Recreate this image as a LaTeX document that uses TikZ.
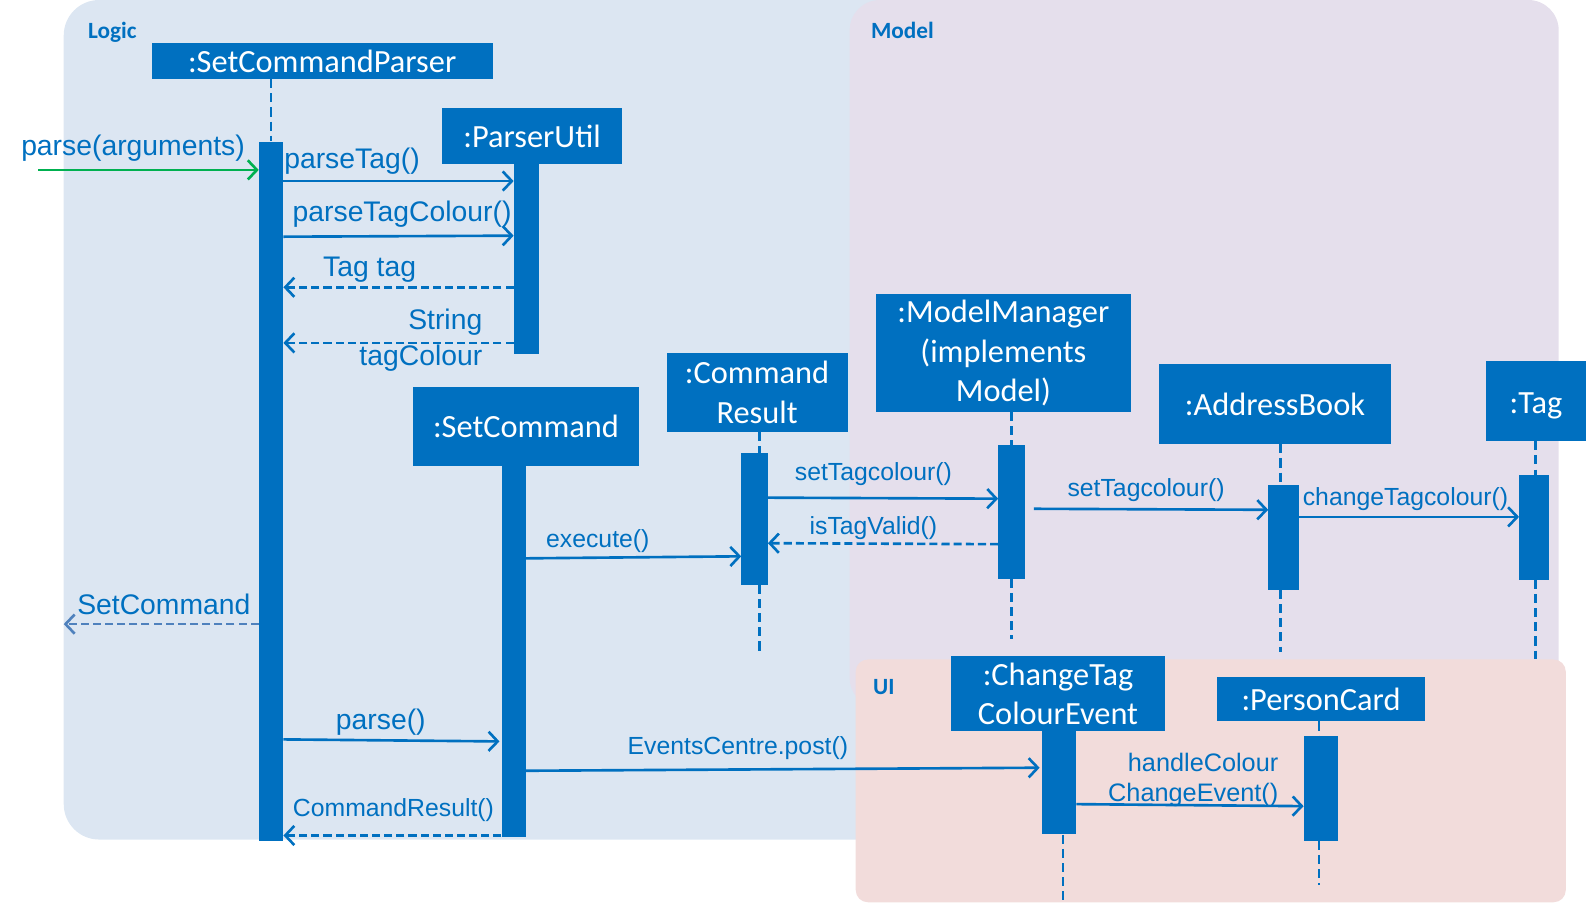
\documentclass[tikz,border=0pt]{standalone}
\usepackage{fontspec}
\setmainfont{Liberation Sans}
\newfontfamily\hdrfont{Carlito}
\usetikzlibrary{arrows.meta}
\definecolor{ublue}{HTML}{0070C0}
\definecolor{logicbg}{HTML}{DCE6F2}
\definecolor{modelbg}{HTML}{E5DFEC}
\definecolor{uibg}{HTML}{F2DCDB}
\definecolor{ugreen}{HTML}{00B050}
\definecolor{retblue}{HTML}{4F81BD}
\begin{document}
\begin{tikzpicture}[x=1pt,y=-1pt,
 hdr/.style={fill=ublue, text=white, inner sep=0pt, font=\hdrfont\fontsize{32}{39}\selectfont, align=center},
 bar/.style={fill=ublue, inner sep=0pt, draw=none},
 life/.style={draw=ublue, line width=2.5pt, dash pattern=on 9pt off 5pt},
 msg/.style={draw=ublue, line width=2.6pt, -{Straight Barb[length=9pt,width=19pt]}},
 ret/.style={msg, dash pattern=on 8pt off 4pt},
 lbig/.style={text=ublue, inner sep=0pt, yshift=-3pt, font=\fontsize{28}{35}\selectfont},
 lsmall/.style={text=ublue, inner sep=0pt, yshift=-3pt, font=\fontsize{24.5}{30}\selectfont},
 region/.style={font=\hdrfont\bfseries\fontsize{23}{28}\selectfont, text=ublue, anchor=west, inner sep=0pt}
]
\useasboundingbox (0,0) rectangle (1568,900);
% regions
\fill[logicbg, rounded corners=35pt] (63,0) rectangle (900,830);
\fill[modelbg, rounded corners=30pt] (840,0) rectangle (1541,700);
\fill[uibg, rounded corners=12pt] (846,652) rectangle (1548,892);
\node[region] (rlogic) at (87,32) {Logic};
\node[region] (rmodel) at (861,30) {Model};
\node[region] (rui) at (863,679) {UI};

% headers
\node[hdr, minimum width=337pt, minimum height=35pt] (h1) at (318.5,60.5) {:SetCommandParser};
\node[hdr, minimum width=178pt, minimum height=55pt] (h2) at (526,134.5) {:ParserUtil};
\node[hdr, minimum width=224pt, minimum height=78pt] (h3) at (520,422) {:SetCommand};
\node[hdr, minimum width=179pt, minimum height=78pt] (h4) at (748.5,388) {:Command\\Result};
\node[hdr, minimum width=252pt, minimum height=116pt] (h5) at (992,349) {:ModelManager\\(implements\\Model)};
\node[hdr, minimum width=229pt, minimum height=79pt] (h6) at (1260.5,399.5) {:AddressBook};
\node[hdr, minimum width=99pt, minimum height=79pt] (h7) at (1518.5,396.5) {\raisebox{-5pt}[\height][\depth]{:Tag}};
\node[hdr, minimum width=212pt, minimum height=74pt] (h8) at (1046,686) {:ChangeTag\\ColourEvent};
\node[hdr, minimum width=206pt, minimum height=44pt] (h9) at (1306,691) {:PersonCard};

% activation bars
\node[bar, minimum width=24pt, minimum height=691pt] (b1) at (268,485.5) {};
\node[bar, minimum width=25pt, minimum height=188pt] (b2) at (520.5,256) {};
\node[bar, minimum width=24pt, minimum height=366pt] (b3) at (508,644) {};
\node[bar, minimum width=26pt, minimum height=130pt] (b4) at (746,513) {};
\node[bar, minimum width=26pt, minimum height=132pt] (b5) at (1000,506) {};
\node[bar, minimum width=30pt, minimum height=104pt] (b6) at (1269,531) {};
\node[bar, minimum width=29pt, minimum height=103pt] (b7) at (1516.5,521.5) {};
\node[bar, minimum width=34pt, minimum height=102pt] (b8) at (1047,774) {};
\node[bar, minimum width=34pt, minimum height=103pt] (b9) at (1306,779.5) {};

% lifeline ends
\coordinate (e4) at (751,645);
\coordinate (e5) at (1000,632);
\coordinate (e6) at (1266,645);
\coordinate (e7) at (1518,652);
\coordinate (e8) at (1051,895);
\coordinate (e9) at (1304,875);

% lifelines
\draw[life] (b1.north |- h1.south) -- (b1.north);
\draw[life] (h4.south -| e4) -- (b4.north -| e4);
\draw[life] (b4.south -| e4) -- (e4);
\draw[life] (h5.south -| e5) -- (b5.north -| e5);
\draw[life] (b5.south -| e5) -- (e5);
\draw[life] (h6.south -| e6) -- (b6.north -| e6);
\draw[life] (b6.south -| e6) -- (e6);
\draw[life] (h7.south -| e7) -- (b7.north -| e7);
\draw[life] (b7.south -| e7) -- (e7);
\draw[life] (b8.south -| e8) -- (e8);
\draw[life] (h9.south -| e9) -- (b9.north -| e9);
\draw[life] (b9.south -| e9) -- (e9);

% messages
\coordinate (start) at (38,168);
\draw[msg, draw=ugreen] (start) -- (b1.west |- start);
\node[lbig] (l1) at (131.5,143) {parse(arguments)};

\draw[msg] (b1.east |- 0,179) -- (b2.west |- 0,179);
\node[lbig] (l2) at (348,156) {parseTag()};

\draw[msg] (b1.east |- 0,234) -- (b2.west |- 0,233);
\node[lbig] (l3) at (397.5,209) {parseTagColour()};

\draw[ret] (b2.west |- 0,284) -- (b1.east |- 0,284);
\node[lbig] (l4) at (365.5,264) {Tag tag};

\draw[ret] (b2.west |- 0,339) -- (b1.east |- 0,339);
\node[lbig, align=right, anchor=east] (l5) at (477,333.5) {String\\tagColour};

\draw[msg] (b3.east |- 0,552) -- (b4.west |- 0,550);
\node[lsmall] (l6) at (591,532) {execute()};

\draw[msg] (b4.east |- 0,492) -- (b5.west |- 0,493);
\node[lsmall] (l7) at (863.5,466) {setTagcolour()};

\draw[ret] (b5.west |- 0,538) -- (b4.east |- 0,537);
\node[lsmall] (l8) at (863.5,519) {isTagValid()};

\draw[msg] ([xshift=9pt]b5.east |- 0,503) -- (b6.west |- 0,504);
\node[lsmall] (l9) at (1133,482) {setTagcolour()};

\draw[msg] (b6.east |- 0,511) -- (b7.west |- 0,511);
\node[lsmall] (l10) at (1389.5,490) {changeTagcolour()};

\coordinate (lout) at (63,617);
\draw[ret, draw=retblue] (b1.west |- lout) -- (lout);
\node[lbig] (l11) at (162,595) {SetCommand};

\draw[msg] (b1.east |- 0,731) -- ([xshift=-2pt]b3.west |- 0,733);
\node[lbig] (l12) at (376.5,711) {parse()};

\draw[msg] (b3.east |- 0,762) -- ([xshift=-2pt]b8.west |- 0,759);
\node[lsmall] (l13) at (729.5,737) {EventsCentre.post()};

\draw[msg] (b8.east |- 0,795) -- (b9.west |- 0,797);
\node[lsmall, font=\fontsize{25}{30}\selectfont, align=right, anchor=east] (l14) at (1264,768) {handleColour\\ChangeEvent()};

\draw[ret] (b3.west |- 0,826) -- (b1.east |- 0,826);
\node[lsmall] (l15) at (389,798) {CommandResult()};
\end{tikzpicture}
\end{document}
